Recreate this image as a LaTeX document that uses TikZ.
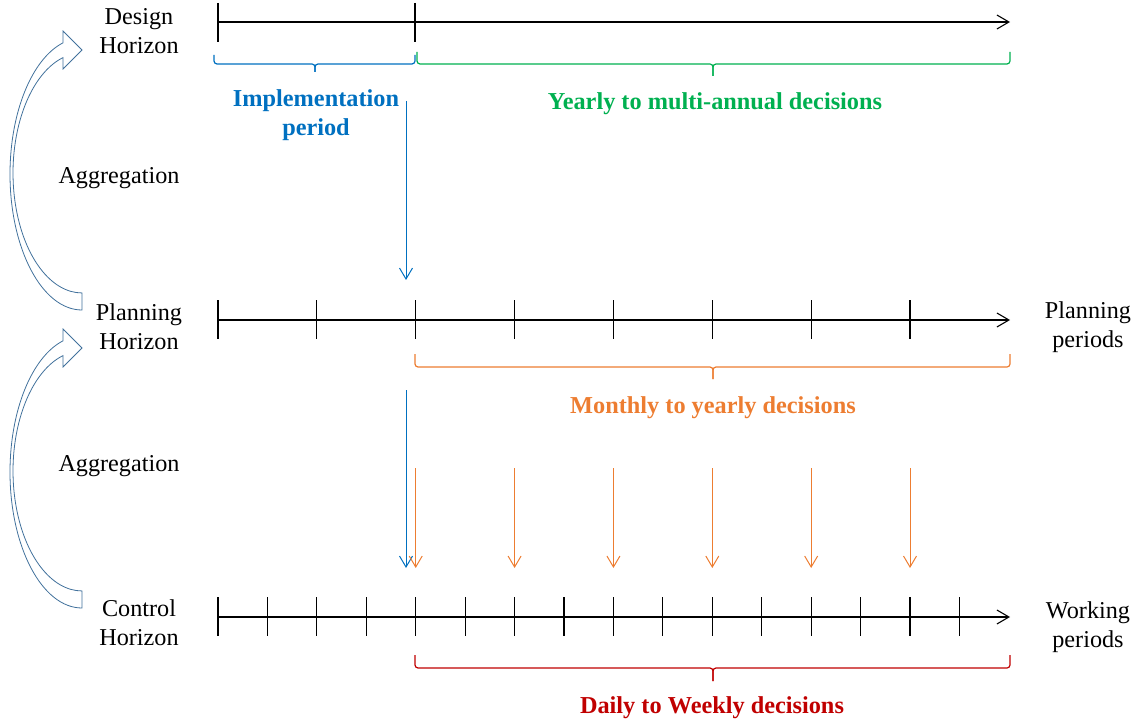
\documentclass[tikz,border=0pt]{standalone}
\usepackage{fontspec}
\setmainfont{Liberation Serif}
\usetikzlibrary{arrows.meta}
\definecolor{implblue}{HTML}{0070C0}
\definecolor{yrgreen}{HTML}{00B050}
\definecolor{moorange}{HTML}{ED7D31}
\definecolor{dyred}{HTML}{C00000}
\definecolor{aggblue}{HTML}{41719C}

\begin{document}
\begin{tikzpicture}[x=1pt,y=-1pt,
  lbl/.style={font=\fontsize{24.2}{29}\selectfont, inner sep=0pt, align=center},
  dec/.style={font=\fontsize{24.3}{29}\selectfont\bfseries, inner sep=0pt, align=center},
  axis/.style={line width=1.1pt, -{Straight Barb[length=12pt,width=14pt,line width=1.1pt]}},
  tickmark/.style={line width=1.2pt},
  bracket/.style={line width=1.2pt, rounded corners=3pt},
  drop/.style={line width=1pt, -{Straight Barb[length=11pt,width=13pt,line width=1pt]}},
  aggarrow/.style={draw=aggblue, fill=white, line width=0.8pt, line join=miter}
]
\useasboundingbox (0,0) rectangle (1141,722);

% time axes
\foreach \n/\y in {design/22, plan/320, ctrl/617} {
  \coordinate (\n-start) at (218,\y);
  \coordinate (\n-end) at (1010,\y);
}
\draw[axis] (design-start) -- (design-end);
\draw[axis] (plan-start) -- (plan-end);
\draw[axis] (ctrl-start) -- (ctrl-end);

% ticks
\foreach \x in {218,415} \draw[tickmark] (\x,3) -- ++(0,39);
\foreach \i in {0,...,7} \draw[tickmark] ({218+2*\i*49.43},300) -- ++(0,39);
\foreach \i in {0,...,15} \draw[tickmark] ({218+\i*49.43},597) -- ++(0,39);

% brackets under the axes
\draw[bracket,implblue] (214,55) -- (214,64) -- (315,64) -- (315,72);
\draw[bracket,implblue] (415,55) -- (415,64) -- (315,64) -- (315,72);
\draw[bracket,yrgreen] (417,52) -- (417,64) -- (713,64) -- (713,76);
\draw[bracket,yrgreen] (1010,52) -- (1010,64) -- (713,64) -- (713,76);
\draw[bracket,moorange] (415,354) -- (415,367) -- (713,367) -- (713,379);
\draw[bracket,moorange] (1010,354) -- (1010,367) -- (713,367) -- (713,379);
\draw[bracket,dyred] (415,655) -- (415,668) -- (713,668) -- (713,681);
\draw[bracket,dyred] (1010,655) -- (1010,668) -- (713,668) -- (713,681);

% curved aggregation arrows
\foreach \dy in {0,298} {
  \begin{scope}[shift={(0,\dy)}]
    \draw[aggarrow] (82,310)
      arc[start angle=90, end angle=254.7, x radius=72, y radius=136]
      -- (63,31) -- (82,50) -- (63,69) -- (63,57.6)
      arc[start angle=254, end angle=90, x radius=69, y radius=120]
      -- cycle;
  \end{scope}
}

% labels
\node[lbl] (design) at (139,31) {Design\\Horizon};
\node[lbl] (plan) at (139,327) {Planning\\Horizon};
\node[lbl] (ctrl) at (139,623) {Control\\Horizon};
\node[lbl, anchor=base] (agg1) at (119,184) {Aggregation};
\node[lbl, anchor=base] (agg2) at (119,471) {Aggregation};
\node[lbl] (planper) at (1088,327) {Planning\\periods};
\node[lbl] (workper) at (1088,627.5) {Working\\periods};

\node[dec, implblue] (impl) at (316,115) {Implementation\\period};
\node[dec, yrgreen, anchor=base] (yearly) at (715,110) {Yearly to multi-annual decisions};
\node[dec, moorange, anchor=base] (monthly) at (713,413) {Monthly to yearly decisions};
\node[dec, dyred, anchor=base] (daily) at (712,713) {Daily to Weekly decisions};

% decision flows between horizons
\coordinate (impl-a) at (406,101);
\coordinate (impl-b) at (406,280);
\coordinate (impl-c) at (406,390);
\coordinate (impl-d) at (406,568);
\draw[drop,implblue] (impl-a) -- (impl-b);
\draw[drop,implblue] (impl-c) -- (impl-d);
\foreach \i in {2,...,7} {
  \coordinate (m\i-a) at ({218+2*\i*49.43},468);
  \coordinate (m\i-b) at ({218+2*\i*49.43},568);
  \draw[drop,moorange] (m\i-a) -- (m\i-b);
}
\end{tikzpicture}
\end{document}
